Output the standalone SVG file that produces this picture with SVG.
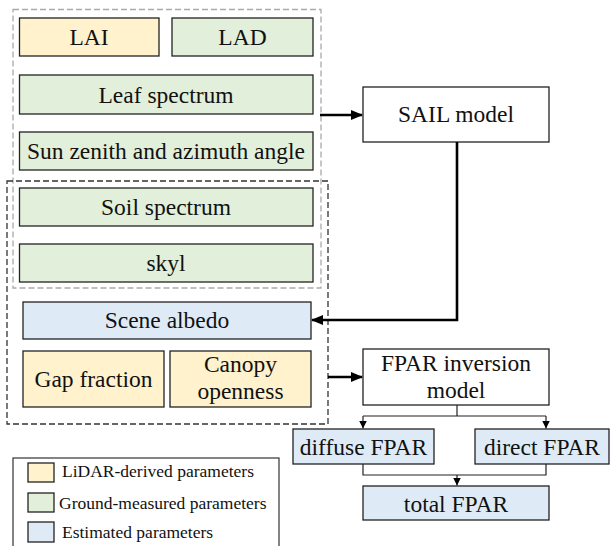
<svg xmlns="http://www.w3.org/2000/svg" width="612" height="546" viewBox="0 0 612 546">
<defs>
<style>
text{font-family:'Liberation Serif','Times New Roman','DejaVu Serif',serif;font-size:23.5px;fill:#111;text-anchor:middle}
.leg{font-size:17.5px;text-anchor:start}
.b{stroke:#222;stroke-width:1.3}
.o{fill:#FFF2CC}.g{fill:#E2EFDA}.u{fill:#DEEBF7}.w{fill:#fff}
.thick{fill:none;stroke:#000;stroke-width:2.6}
.thin{fill:none;stroke:#222;stroke-width:1.2}
</style>
<marker id="ah" markerWidth="12" markerHeight="10" refX="11" refY="5" orient="auto" markerUnits="userSpaceOnUse"><path d="M0,0 L12,5 L0,10 Z" fill="#000"/></marker>
<marker id="as" markerWidth="8" markerHeight="8" refX="8" refY="4" orient="auto" markerUnits="userSpaceOnUse"><path d="M0,0 L8,4 L0,8 Z" fill="#000"/></marker>
</defs>
<g font-family="Liberation Serif, Times New Roman, DejaVu Serif, serif">
<rect x="13" y="9.5" width="308" height="278.5" fill="none" stroke="#aaa" stroke-width="1.3" stroke-dasharray="6,3"/>
<rect x="7" y="181" width="321" height="243" fill="none" stroke="#333" stroke-width="1.3" stroke-dasharray="6,3"/>
<g id="lai"><rect class="b o" x="19.5" y="18" width="139.5" height="38"/><text x="89" y="45">LAI</text></g>
<g id="lad"><rect class="b g" x="172" y="18" width="141" height="38"/><text x="242.5" y="45">LAD</text></g>
<g id="leaf"><rect class="b g" x="19.5" y="75" width="293.5" height="39"/><text x="166" y="103">Leaf spectrum</text></g>
<g id="sun"><rect class="b g" x="19.5" y="132" width="293.5" height="38"/><text x="166" y="159">Sun zenith and azimuth angle</text></g>
<g id="soil"><rect class="b g" x="19.5" y="188" width="293.5" height="38"/><text x="166" y="215">Soil spectrum</text></g>
<g id="skyl"><rect class="b g" x="19.5" y="244" width="293.5" height="38"/><text x="166" y="271">skyl</text></g>
<g id="albedo"><rect class="b u" x="23" y="302" width="288" height="37"/><text x="167" y="328">Scene albedo</text></g>
<g id="gap"><rect class="b o" x="23" y="351" width="141" height="56"/><text x="93.5" y="387">Gap fraction</text></g>
<g id="canopy"><rect class="b o" x="170" y="351" width="141" height="56"/><text x="240.5" y="372">Canopy</text><text x="240.5" y="399">openness</text></g>
<g id="sail"><rect class="b w" x="363" y="87" width="186" height="55"/><text x="456" y="122">SAIL model</text></g>
<g id="fpar"><rect class="b w" x="363" y="349" width="186" height="56"/><text x="456" y="371">FPAR inversion</text><text x="456" y="398">model</text></g>
<g id="diffuse"><rect class="b u" x="293" y="429" width="141" height="35"/><text x="363.5" y="455">diffuse FPAR</text></g>
<g id="direct"><rect class="b u" x="475" y="429" width="134" height="35"/><text x="542" y="455">direct FPAR</text></g>
<g id="total"><rect class="b u" x="363" y="486" width="186" height="34"/><text x="456" y="512">total FPAR</text></g>
<g id="connectors">
<path class="thick" d="M320,115 H362" marker-end="url(#ah)"/>
<path class="thick" d="M457,142 V320 H312" marker-end="url(#ah)"/>
<path class="thick" d="M328,377 H362" marker-end="url(#ah)"/>
<path class="thin" d="M457,405 V416"/>
<path class="thin" d="M363,416 H546"/>
<path class="thin" d="M363,416 V428.5" marker-end="url(#as)"/>
<path class="thin" d="M546,416 V428.5" marker-end="url(#as)"/>
<path class="thin" d="M363,464 V475 H546 V464"/>
<path class="thin" d="M457,475 V485.5" marker-end="url(#as)"/>
</g>
<g id="legend">
<rect x="13" y="458" width="266" height="95" fill="#fff" stroke="#333" stroke-width="1.2"/>
<rect class="b o" x="28" y="463" width="26" height="19"/>
<rect class="b g" x="28" y="493" width="26" height="19"/>
<rect class="b u" x="28" y="522" width="26" height="20"/>
<text class="leg" x="62" y="477">LiDAR-derived parameters</text>
<text class="leg" x="59" y="509">Ground-measured parameters</text>
<text class="leg" x="62" y="538">Estimated parameters</text>
</g>
</g>
</svg>
